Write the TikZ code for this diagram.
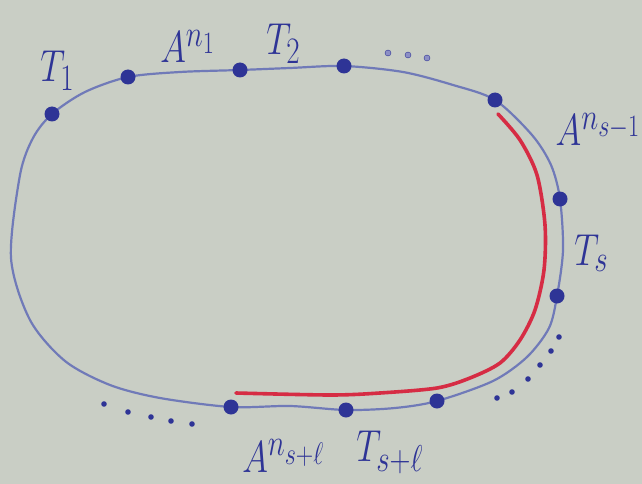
\documentclass[tikz,border=0pt]{standalone}
\usetikzlibrary{positioning}
\definecolor{paper}{RGB}{201,206,197}
\definecolor{ink}{RGB}{46,52,150}
\definecolor{loopcol}{RGB}{112,122,184}
\definecolor{marker}{RGB}{214,44,68}
\pgfdeclarelayer{bg}
\pgfsetlayers{bg,main}
\begin{document}
\begin{tikzpicture}[x=1pt, y=-1pt,
    dot/.style={circle, fill=ink, inner sep=0pt, minimum size=15pt},
    lab/.style={text=ink, font=\Huge, xscale=1.4, yscale=1.8, anchor=base west, inner sep=0pt}]
    \useasboundingbox (0,0) rectangle (642,484);
    % points on the loop
    \node[dot] (t1)  at (52,114)  {};
    \node[dot] (a1)  at (128,77)  {};
    \node[dot] (t2)  at (240,70)  {};
    \node[dot] (t2e) at (344,66)  {};
    \node[dot] (as)  at (495,100) {};
    \node[dot] (ts)  at (560,199) {};
    \node[dot] (tse) at (557,296) {};
    \node[dot] (tl)  at (437,401) {};
    \node[dot] (tlm) at (346,410) {};
    \node[dot] (al)  at (231,407) {};
    \begin{pgfonlayer}{bg}
    \fill[paper] (0,0) rectangle (642,484);
    \draw[loopcol, line width=2.2pt] plot[smooth cycle] coordinates {
        (11,258) (20,175) (33,138) (t1.center) (85,92) (a1.center) (180,72)
        (t2.center) (290,68) (t2e.center) (403,72) (453,85) (as.center)
        (532,135) (551,165) (ts.center) (563,250) (tse.center) (549,328)
        (527,357) (493,381) (tl.center) (395,408) (tlm.center) (290,406)
        (al.center) (160,398) (110,385) (65,361) (30,320)};
    \draw[marker, line width=3.6pt, line cap=round] plot[smooth] coordinates {
        (498,114) (520,140) (537,175) (545,225) (544,270) (535,310)
        (520,340) (500,363) (470,378) (437,388) (380,393) (330,395) (236,393)};
    \end{pgfonlayer}
    \foreach \p in {(388,53),(408,55),(427,58)}
        \filldraw[ink, fill=ink!55] \p circle[radius=3pt];
    \foreach \p in {(104,404),(128,412),(151,417),(171,421),(192,424),
                    (497,398),(512,392),(528,379),(540,365),(551,351),(559,337)}
        \fill[ink] \p circle[radius=2.8pt];
    % labels
    \node[lab] (lt1)  at (40,82)   {$T_1$};
    \node[lab] (la1)  at (160,63)  {$A^{n_1}$};
    \node[lab] (lt2)  at (266,55)  {$T_2$};
    \node[lab, anchor=base east] (las) at (641,146) {$A^{n_{s-1}}$};
    \node[lab] (lts)  at (574,265) {$T_s$};
    \node[lab] (lal)  at (242,472) {$A^{n_{s+\ell}}$};
    \node[lab] (ltl)  at (356,461) {$T_{s+\ell}$};
\end{tikzpicture}
\end{document}
